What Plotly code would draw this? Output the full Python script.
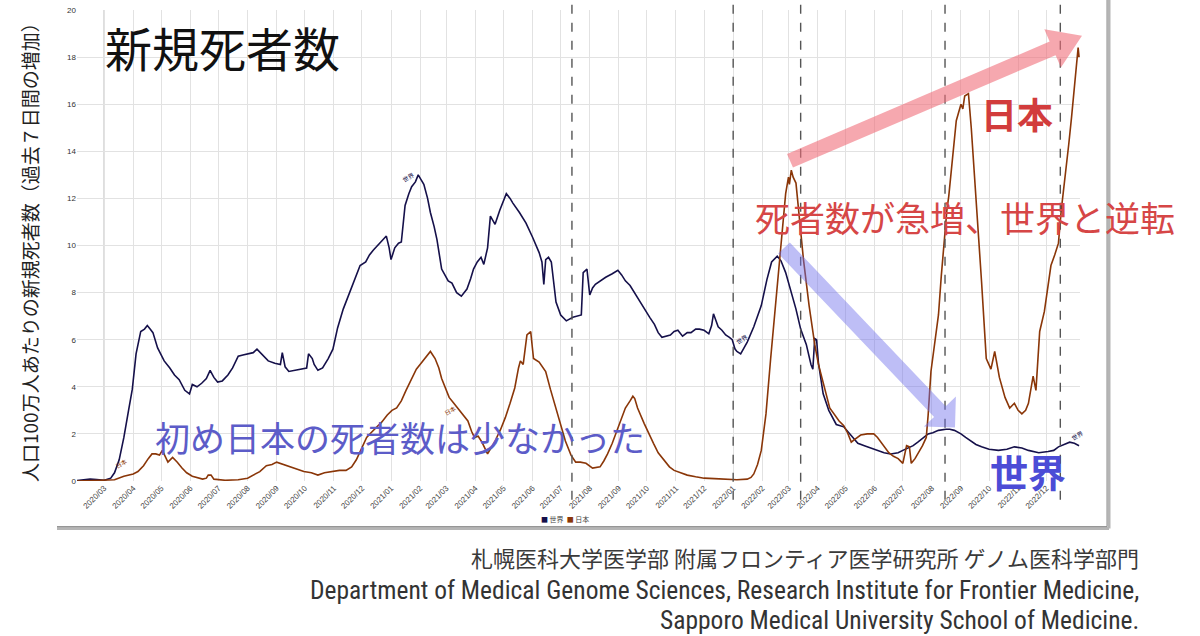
import math
import pandas as pd
import plotly.graph_objects as go

# 人口100万人あたりの新規死者数（7日間）: 世界
world_dates = [
    "2020-02-01", "2020-02-15", "2020-02-22", "2020-03-01", "2020-03-08", "2020-03-12", "2020-03-17",
    "2020-03-22", "2020-03-27", "2020-03-31", "2020-04-04", "2020-04-09", "2020-04-13", "2020-04-16",
    "2020-04-19", "2020-04-22", "2020-04-27", "2020-05-04", "2020-05-10", "2020-05-15", "2020-05-20",
    "2020-05-26", "2020-05-31", "2020-06-03", "2020-06-08", "2020-06-13", "2020-06-18", "2020-06-22",
    "2020-06-26", "2020-06-30", "2020-07-05", "2020-07-11", "2020-07-16", "2020-07-22", "2020-07-27",
    "2020-08-02", "2020-08-07", "2020-08-11", "2020-08-17", "2020-08-23", "2020-08-30", "2020-09-05",
    "2020-09-07", "2020-09-10", "2020-09-14", "2020-09-20", "2020-09-29", "2020-10-03", "2020-10-05",
    "2020-10-09", "2020-10-11", "2020-10-15", "2020-10-20", "2020-10-26", "2020-10-31", "2020-11-05",
    "2020-11-11", "2020-11-16", "2020-11-21", "2020-11-29", "2020-12-05", "2020-12-09", "2020-12-13",
    "2020-12-20", "2020-12-27", "2020-12-30", "2021-01-01", "2021-01-05", "2021-01-09", "2021-01-12",
    "2021-01-16", "2021-01-20", "2021-01-23", "2021-01-27", "2021-01-30", "2021-02-02", "2021-02-05",
    "2021-02-09", "2021-02-12", "2021-02-16", "2021-02-19", "2021-02-24", "2021-03-03", "2021-03-07",
    "2021-03-12", "2021-03-17", "2021-03-23", "2021-03-27", "2021-03-30", "2021-04-03", "2021-04-07",
    "2021-04-10", "2021-04-14", "2021-04-17", "2021-04-22", "2021-04-27", "2021-05-01", "2021-05-04",
    "2021-05-08", "2021-05-11", "2021-05-18", "2021-05-25", "2021-06-01", "2021-06-08", "2021-06-11",
    "2021-06-13", "2021-06-15", "2021-06-18", "2021-06-21", "2021-06-26", "2021-07-01", "2021-07-07",
    "2021-07-14", "2021-07-20", "2021-07-23", "2021-07-25", "2021-07-29", "2021-08-01", "2021-08-04",
    "2021-08-07", "2021-08-12", "2021-08-18", "2021-08-25", "2021-08-31", "2021-09-04", "2021-09-08",
    "2021-09-13", "2021-09-19", "2021-09-25", "2021-09-30", "2021-10-04", "2021-10-09", "2021-10-13",
    "2021-10-17", "2021-10-22", "2021-10-26", "2021-10-30", "2021-11-03", "2021-11-08", "2021-11-13",
    "2021-11-17", "2021-11-22", "2021-11-26", "2021-12-01", "2021-12-06", "2021-12-09", "2021-12-11",
    "2021-12-14", "2021-12-16", "2021-12-20", "2021-12-24", "2021-12-28", "2021-12-31", "2022-01-03",
    "2022-01-05", "2022-01-09", "2022-01-12", "2022-01-16", "2022-01-23", "2022-01-27", "2022-01-31",
    "2022-02-06", "2022-02-11", "2022-02-17", "2022-02-21", "2022-02-26", "2022-03-03", "2022-03-09",
    "2022-03-14", "2022-03-20", "2022-03-25", "2022-03-27", "2022-03-29", "2022-03-31", "2022-04-02",
    "2022-04-07", "2022-04-13", "2022-04-17", "2022-04-21", "2022-04-29", "2022-05-07", "2022-05-14",
    "2022-05-21", "2022-05-28", "2022-06-04", "2022-06-11", "2022-06-18", "2022-06-26", "2022-07-01",
    "2022-07-07", "2022-07-12", "2022-07-17", "2022-07-22", "2022-07-28", "2022-08-02", "2022-08-08",
    "2022-08-16", "2022-08-20", "2022-08-25", "2022-09-01", "2022-09-06", "2022-09-12", "2022-09-17",
    "2022-09-23", "2022-10-01", "2022-10-11", "2022-10-20", "2022-10-28", "2022-11-05", "2022-11-12",
    "2022-11-18", "2022-11-23", "2022-12-03", "2022-12-09", "2022-12-14", "2022-12-20", "2022-12-26",
    "2022-12-31", "2023-01-05",
]
world_values = [
    0.02, 0.08, 0.06, 0.03, 0.12, 0.35, 0.9,
    1.85, 3.0, 3.9, 5.4, 6.35, 6.45, 6.6,
    6.45, 6.3, 5.65, 5.1, 4.8, 4.5, 4.3,
    3.85, 3.7, 4.1, 4.0, 4.15, 4.35, 4.7,
    4.4, 4.2, 4.25, 4.5, 4.8, 5.3, 5.35,
    5.4, 5.45, 5.6, 5.35, 5.1, 5.0, 4.95,
    5.45, 4.85, 4.65, 4.7, 4.75, 4.8, 5.4,
    5.2, 4.95, 4.7, 4.8, 5.2, 5.6, 6.5,
    7.3, 7.8, 8.3, 9.15, 9.3, 9.6, 9.8,
    10.1, 10.4, 9.9, 9.4, 9.9, 10.1, 10.15,
    11.7, 12.2, 12.5, 12.7, 13.0, 12.8, 12.6,
    12.0, 11.4, 10.8, 10.25, 9.0, 8.5, 8.4,
    8.0, 7.85, 8.15, 8.6, 9.0, 9.3, 9.5,
    9.2, 9.9, 11.25, 10.9, 11.5, 11.9, 12.2,
    12.0, 11.8, 11.4, 10.95, 10.35, 9.7, 9.3,
    8.35, 9.4, 9.5, 9.3, 7.6, 7.05, 6.8,
    6.95, 7.0, 7.05, 8.85, 9.0, 7.9, 8.2,
    8.35, 8.5, 8.65, 8.8, 8.95, 8.75, 8.5,
    8.3, 7.9, 7.5, 7.2, 6.95, 6.65, 6.3,
    6.1, 6.15, 6.2, 6.35, 6.4, 6.15, 6.3,
    6.3, 6.45, 6.45, 6.4, 6.25, 6.6, 7.1,
    6.8, 6.55, 6.4, 6.2, 6.1, 6.0, 5.6,
    5.5, 5.4, 5.6, 5.9, 6.55, 7.0, 7.45,
    8.55, 9.3, 9.55, 9.35, 8.85, 8.15, 7.3,
    6.45, 5.8, 4.95, 4.75, 6.05, 6.0, 5.0,
    3.7, 3.0, 2.7, 2.4, 2.3, 1.9, 1.6,
    1.5, 1.4, 1.3, 1.2, 1.15, 1.2, 1.3,
    1.4, 1.5, 1.65, 1.8, 2.0, 2.05, 2.15,
    2.2, 2.2, 2.15, 2.0, 1.85, 1.7, 1.55,
    1.45, 1.35, 1.3, 1.35, 1.45, 1.4, 1.3,
    1.25, 1.2, 1.25, 1.3, 1.45, 1.55, 1.65,
    1.6, 1.5,
]

# 日本
japan_dates = [
    "2020-02-01", "2020-03-01", "2020-03-12", "2020-03-22", "2020-04-01", "2020-04-06", "2020-04-12",
    "2020-04-17", "2020-04-21", "2020-04-25", "2020-04-29", "2020-05-02", "2020-05-05", "2020-05-08",
    "2020-05-13", "2020-05-18", "2020-05-23", "2020-05-28", "2020-06-03", "2020-06-14", "2020-06-18",
    "2020-06-20", "2020-06-23", "2020-06-26", "2020-07-08", "2020-07-22", "2020-08-01", "2020-08-07",
    "2020-08-14", "2020-08-21", "2020-08-27", "2020-09-01", "2020-09-08", "2020-09-16", "2020-09-23",
    "2020-09-30", "2020-10-08", "2020-10-15", "2020-10-22", "2020-10-29", "2020-11-07", "2020-11-14",
    "2020-11-20", "2020-11-25", "2020-11-30", "2020-12-06", "2020-12-12", "2020-12-17", "2020-12-22",
    "2020-12-28", "2021-01-02", "2021-01-07", "2021-01-12", "2021-01-17", "2021-01-23", "2021-01-28",
    "2021-02-01", "2021-02-06", "2021-02-12", "2021-02-17", "2021-02-21", "2021-02-24", "2021-03-01",
    "2021-03-04", "2021-03-09", "2021-03-13", "2021-03-19", "2021-03-24", "2021-03-28", "2021-03-31",
    "2021-04-04", "2021-04-08", "2021-04-14", "2021-04-18", "2021-04-22", "2021-04-28", "2021-05-03",
    "2021-05-08", "2021-05-13", "2021-05-17", "2021-05-19", "2021-05-22", "2021-05-26", "2021-05-30",
    "2021-06-02", "2021-06-08", "2021-06-15", "2021-06-20", "2021-06-26", "2021-07-01", "2021-07-06",
    "2021-07-12", "2021-07-17", "2021-07-22", "2021-07-28", "2021-08-04", "2021-08-12", "2021-08-16",
    "2021-08-20", "2021-08-25", "2021-08-30", "2021-09-04", "2021-09-08", "2021-09-13", "2021-09-16",
    "2021-09-18", "2021-09-21", "2021-09-28", "2021-10-03", "2021-10-08", "2021-10-13", "2021-10-19",
    "2021-10-25", "2021-10-30", "2021-11-06", "2021-11-13", "2021-11-22", "2021-12-01", "2021-12-12",
    "2021-12-23", "2022-01-05", "2022-01-16", "2022-01-20", "2022-01-23", "2022-01-27", "2022-01-31",
    "2022-02-05", "2022-02-10", "2022-02-16", "2022-02-21", "2022-02-26", "2022-03-01", "2022-03-02",
    "2022-03-04", "2022-03-06", "2022-03-09", "2022-03-12", "2022-03-17", "2022-03-23", "2022-03-29",
    "2022-04-02", "2022-04-09", "2022-04-14", "2022-04-24", "2022-04-29", "2022-05-03", "2022-05-07",
    "2022-05-10", "2022-05-17", "2022-05-24", "2022-05-31", "2022-06-04", "2022-06-08", "2022-06-16",
    "2022-06-21", "2022-06-26", "2022-07-01", "2022-07-03", "2022-07-05", "2022-07-08", "2022-07-10",
    "2022-07-14", "2022-07-18", "2022-07-22", "2022-07-26", "2022-07-28", "2022-07-31", "2022-08-04",
    "2022-08-08", "2022-08-11", "2022-08-14", "2022-08-17", "2022-08-19", "2022-08-22", "2022-08-27",
    "2022-09-01", "2022-09-03", "2022-09-05", "2022-09-09", "2022-09-12", "2022-09-15", "2022-09-18",
    "2022-09-23", "2022-09-28", "2022-10-03", "2022-10-07", "2022-10-12", "2022-10-18", "2022-10-23",
    "2022-10-28", "2022-11-01", "2022-11-05", "2022-11-09", "2022-11-12", "2022-11-17", "2022-11-20",
    "2022-11-24", "2022-11-29", "2022-12-03", "2022-12-06", "2022-12-10", "2022-12-14", "2022-12-17",
    "2022-12-21", "2022-12-25", "2022-12-28", "2023-01-02", "2023-01-04", "2023-01-05",
]
japan_values = [
    0.0, 0.02, 0.05, 0.2, 0.3, 0.4, 0.65,
    0.95, 1.15, 1.15, 1.1, 1.3, 1.05, 0.8,
    1.0, 0.8, 0.55, 0.35, 0.2, 0.08, 0.12,
    0.25, 0.25, 0.08, 0.03, 0.05, 0.12, 0.25,
    0.4, 0.65, 0.7, 0.8, 0.7, 0.6, 0.5,
    0.4, 0.35, 0.25, 0.35, 0.4, 0.45, 0.45,
    0.6, 0.9, 1.3, 1.85, 2.1, 2.3, 2.5,
    2.8, 3.0, 3.1, 3.4, 3.85, 4.35, 4.75,
    4.95, 5.2, 5.5, 5.2, 4.8, 4.35, 3.8,
    3.55, 3.3, 3.1, 2.8, 2.55, 2.1, 1.85,
    1.9, 1.65, 1.15, 1.4, 1.7, 2.2, 2.7,
    3.3, 3.95, 4.8, 5.1, 4.95, 6.2, 6.35,
    5.2, 5.05, 4.65, 3.9, 3.1, 2.4, 1.7,
    1.1, 0.8, 0.8, 0.75, 0.55, 0.6, 0.85,
    1.15, 1.6, 2.15, 2.7, 3.1, 3.4, 3.6,
    3.5, 3.1, 2.45, 2.0, 1.6, 1.2, 0.9,
    0.6, 0.45, 0.35, 0.25, 0.18, 0.12, 0.1,
    0.08, 0.05, 0.08, 0.15, 0.3, 0.7, 1.3,
    2.85, 5.2, 7.75, 10.1, 12.2, 12.9, 12.6,
    13.2, 12.9, 12.65, 11.5, 9.4, 7.45, 5.8,
    4.95, 3.8, 3.1, 2.55, 2.35, 2.05, 1.65,
    1.75, 1.95, 2.0, 2.0, 1.85, 1.65, 1.2,
    1.05, 0.95, 0.75, 1.2, 1.5, 1.45, 0.75,
    0.95, 1.2, 1.5, 1.85, 2.8, 4.65, 5.9,
    7.05, 8.7, 10.25, 11.5, 12.1, 13.35, 15.3,
    16.0, 15.8, 16.35, 16.45, 15.0, 13.3, 11.7,
    8.45, 5.2, 4.75, 5.5, 4.4, 3.55, 3.1,
    3.3, 3.0, 2.85, 3.0, 3.3, 4.45, 3.85,
    6.35, 7.2, 8.3, 9.15, 9.6, 10.1, 11.5,
    13.05, 14.3, 15.45, 17.7, 18.4, 18.0,
]

# 破線で示された時点
event_dates = ["2021-07-13", "2022-01-01", "2022-03-14", "2022-08-15", "2022-12-16"]

tick_months = pd.date_range("2020-03-01", "2022-12-01", freq="MS")
tick_labels = [d.strftime("%Y/%m") for d in tick_months]

# plot area in window pixels
L, R, T, B = 77, 1080, 6, 481


def px(x):
    return (x - L) / (R - L)


def py(y):
    return (B - y) / (B - T)


def arrow_path(x0, y0, x1, y1, shaft, head_len, head_w):
    dx, dy = x1 - x0, y1 - y0
    d = math.hypot(dx, dy)
    ux, uy = dx / d, dy / d
    nx, ny = -uy, ux
    bx, by = x1 - ux * head_len, y1 - uy * head_len
    pts = [
        (x0 + nx * shaft / 2, y0 + ny * shaft / 2),
        (bx + nx * shaft / 2, by + ny * shaft / 2),
        (bx + nx * head_w / 2, by + ny * head_w / 2),
        (x1, y1),
        (bx - nx * head_w / 2, by - ny * head_w / 2),
        (bx - nx * shaft / 2, by - ny * shaft / 2),
        (x0 - nx * shaft / 2, y0 - ny * shaft / 2),
    ]
    return "M " + " L ".join(f"{px(a):.5f},{py(b):.5f}" for a, b in pts) + " Z"


WORLD_COLOR = "#15104a"
JAPAN_COLOR = "#8a3608"
JP = "Noto Sans CJK JP"
NARROW = "Liberation Sans Narrow, Roboto Condensed, Liberation Sans"

fig = go.Figure()
fig.add_trace(go.Scatter(x=world_dates, y=world_values, mode="lines", name="世界",
                         line=dict(color=WORLD_COLOR, width=1.6)))
fig.add_trace(go.Scatter(x=japan_dates, y=japan_values, mode="lines", name="日本",
                         line=dict(color=JAPAN_COLOR, width=1.6)))

shapes = []
# darker line at 2020/03
shapes.append(dict(type="line", xref="x", yref="paper", x0="2020-03-01", x1="2020-03-01", y0=0, y1=1,
                   line=dict(color="#9a9a9a", width=1), layer="below"))
for d in event_dates:
    shapes.append(dict(type="line", xref="x", yref="paper", x0=d, x1=d, y0=py(500), y1=py(0),
                       line=dict(color="#555555", width=1.4, dash="dash")))
# frame of the chart box
shapes.append(dict(type="line", xref="paper", yref="paper", x0=px(57), x1=px(1109), y0=py(529), y1=py(529),
                   line=dict(color="#b5b5b5", width=3)))
shapes.append(dict(type="line", xref="paper", yref="paper", x0=px(1109), x1=px(1109), y0=py(529), y1=py(-5),
                   line=dict(color="#b5b5b5", width=3)))
shapes.append(dict(type="line", xref="paper", yref="paper", x0=px(57), x1=px(1107), y0=py(527), y1=py(527),
                   line=dict(color="#8a8a8a", width=1)))
shapes.append(dict(type="line", xref="paper", yref="paper", x0=px(1107), x1=px(1107), y0=py(527), y1=py(-5),
                   line=dict(color="#8a8a8a", width=1)))
# arrows
shapes.append(dict(type="path", xref="paper", yref="paper", layer="above",
                   path=arrow_path(790, 158, 1082, 32, 15, 32, 42),
                   fillcolor="rgba(240,110,122,0.6)", line=dict(width=0)))
shapes.append(dict(type="path", xref="paper", yref="paper", layer="above",
                   path=arrow_path(784, 246, 955, 427, 16, 22, 44),
                   fillcolor="rgba(110,110,235,0.45)", line=dict(width=0)))

annotations = [
    dict(text="新規死者数", x=px(222), y=py(43), font=dict(family=JP, size=47, color="#111111")),
    dict(text="人口100万人あたりの新規死者数（過去７日間の増加）", x=px(30), y=py(246), textangle=-90,
         font=dict(family=JP, size=19, color="#222222")),
    dict(text="日本", x=px(1017), y=py(110), font=dict(family=JP, size=36, color="#d23c3c", weight="bold")),
    dict(text="死者数が急増、世界と逆転", x=px(965), y=py(214), font=dict(family=JP, size=35, color="#d64646")),
    dict(text="初め日本の死者数は少なかった", x=px(400), y=py(436), font=dict(family=JP, size=35, color="#5c5cc8")),
    dict(text="世界", x=px(1028), y=py(470), font=dict(family=JP, size=38, color="#4c4cd6", weight="bold")),
    dict(text=f"<span style='color:{WORLD_COLOR}'>■</span> 世界  <span style='color:{JAPAN_COLOR}'>■</span> 日本",
         x=px(565), y=py(519), font=dict(family=JP, size=7, color="#444444")),
    dict(text="札幌医科大学医学部 附属フロンティア医学研究所 ゲノム医科学部門", x=px(1141), y=py(558),
         xanchor="right", font=dict(family=JP, size=22, color="#3a3a3a")),
    dict(text="Department of Medical Genome Sciences, Research Institute for Frontier Medicine,",
         x=px(1141), y=py(591), xanchor="right", font=dict(family=NARROW, size=25.5, color="#333333")),
    dict(text="Sapporo Medical University School of Medicine.", x=px(1141), y=py(621), xanchor="right",
         font=dict(family=NARROW, size=25.5, color="#333333")),
]
for a in annotations:
    a.setdefault("xref", "paper")
    a.setdefault("yref", "paper")
    a.setdefault("showarrow", False)
    a.setdefault("xanchor", "center")
    a.setdefault("yanchor", "middle")

# tiny series labels on the lines
for txt, d, v, c in [("日本", "2020-03-19", 0.75, JAPAN_COLOR), ("世界", "2021-01-19", 12.9, WORLD_COLOR),
                     ("日本", "2021-03-05", 3.0, JAPAN_COLOR), ("世界", "2022-01-10", 6.0, WORLD_COLOR),
                     ("世界", "2023-01-03", 1.95, WORLD_COLOR)]:
    annotations.append(dict(text=txt, x=d, y=v, xref="x", yref="y", showarrow=False, textangle=-30,
                            font=dict(family=JP, size=6, color=c)))

fig.update_layout(
    width=1200, height=636,
    margin=dict(l=L, r=1200 - R, t=T, b=636 - B),
    paper_bgcolor="white", plot_bgcolor="white",
    showlegend=False,
    shapes=shapes, annotations=annotations,
    xaxis=dict(range=["2020-02-01", "2023-01-06"], tickvals=list(tick_months), ticktext=tick_labels,
               tickangle=-45, tickfont=dict(family="Liberation Sans", size=8, color="#444444"),
               showgrid=True, gridcolor="#e2e2e2", gridwidth=1, zeroline=False, showline=False, ticks=""),
    yaxis=dict(range=[0, 20], dtick=2, tickfont=dict(family="Liberation Sans", size=8, color="#333333"),
               showgrid=True, gridcolor="#e2e2e2", gridwidth=1, zeroline=False, showline=False, ticks=""),
)

fig.write_html("out.html", config={"displayModeBar": False},
               post_script="document.body.style.margin='0px';")
